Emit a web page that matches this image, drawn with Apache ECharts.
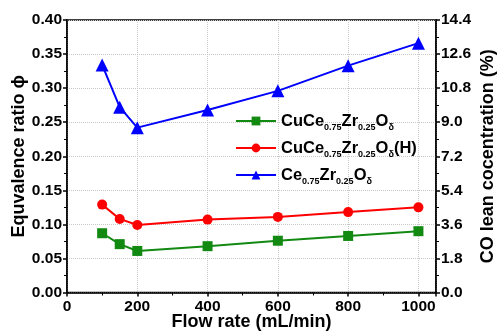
<!DOCTYPE html>
<html><head><meta charset="utf-8">
<script src="https://cdn.jsdelivr.net/npm/echarts@6/dist/echarts.min.js"></script>
<style>html,body{margin:0;padding:0;background:#fff}#c{width:500px;height:334px}</style>
</head><body><div id="c"></div>
<script>
var flowRates = [100, 150, 200, 400, 600, 800, 1000];
var cuCeZr = [0.087, 0.071, 0.061, 0.068, 0.076, 0.083, 0.090];
var cuCeZrH = [0.129, 0.108, 0.099, 0.107, 0.111, 0.118, 0.125];
var ceZr = [0.334, 0.272, 0.242, 0.268, 0.296, 0.333, 0.366];
var seriesNames = ['CuCe0.75Zr0.25Oδ', 'CuCe0.75Zr0.25Oδ(H)', 'Ce0.75Zr0.25Oδ'];
var legendRich = {
  '0': '{a|CuCe}{s|0.75}{a|Zr}{s|0.25}{a|O}{s|δ}',
  '1': '{a|CuCe}{s|0.75}{a|Zr}{s|0.25}{a|O}{s|δ}{a|(H)}',
  '2': '{a|Ce}{s|0.75}{a|Zr}{s|0.25}{a|O}{s|δ}'
};
function pairs(vals){ return flowRates.map(function(x,i){return [x, vals[i]];}); }
var F = 'Liberation Sans, Arial, sans-serif';
var chart = echarts.init(document.getElementById('c'), null, {renderer:'canvas'});
var axisLbl = {color:'#000', fontFamily:F, fontWeight:'bold', fontSize:15.5};
var nameStyle = {color:'#000', fontFamily:F, fontWeight:'bold', fontSize:18};
var colors = ['#128a12', '#ff0000', '#0000ff'];
var symbols = ['rect', 'circle', 'triangle'];
var sizes = [10, 10, 13];
var data = [cuCeZr, cuCeZrH, ceZr];
chart.setOption({
  animation:false,
  grid:{left:67, right:64, top:20, bottom:41.5, show:true, borderColor:'#000', borderWidth:1.5,
        containLabel:false, outerBoundsMode:'none'},
  legend:{
    orient:'vertical', left:230, top:105, itemWidth:40, itemHeight:11, itemGap:5,
    data:seriesNames,
    formatter:function(n){ return legendRich[String(seriesNames.indexOf(n))]; },
    textStyle:{
      rich:{
        a:{fontFamily:F, fontWeight:'bold', fontSize:16.5, color:'#000', lineHeight:21},
        s:{fontFamily:F, fontWeight:'bold', fontSize:9, color:'#000', padding:[13,0,0,0], lineHeight:21}
      }
    }
  },
  xAxis:{
    type:'value', min:0, max:1050, interval:200,
    name:'Flow rate (mL/min)', nameLocation:'middle', nameGap:20.5, nameMoveOverlap:false, nameTextStyle:nameStyle,
    axisLine:{lineStyle:{color:'#000', width:1.5}},
    axisTick:{length:4, lineStyle:{color:'#000', width:1.5}},
    minorTick:{show:true, splitNumber:2, length:3, lineStyle:{color:'#000'}},
    axisLabel:Object.assign({margin:6, showMaxLabel:false, formatter:function(v){return String(v);}}, axisLbl),
    splitLine:{show:true, lineStyle:{color:'#c8c8c8', type:'dotted', width:1}}
  },
  yAxis:[{
    type:'value', min:0, max:0.4, interval:0.05,
    name:'Equvalence ratio ϕ', nameLocation:'middle', nameGap:38.5, nameMoveOverlap:false, nameTextStyle:nameStyle,
    axisLine:{show:true, lineStyle:{color:'#000', width:1.5}},
    axisTick:{show:true, length:4, lineStyle:{color:'#000', width:1.5}},
    minorTick:{show:true, splitNumber:2, length:3, lineStyle:{color:'#000'}},
    axisLabel:Object.assign({margin:5, formatter:function(v){return v.toFixed(2);}}, axisLbl),
    splitLine:{show:true, lineStyle:{color:'#c8c8c8', type:'dotted', width:1}}
  },{
    type:'value', min:0, max:14.4, interval:1.8, position:'right',
    name:'CO lean cocentration (%)', nameLocation:'middle', nameGap:43, nameRotate:90, nameMoveOverlap:false, nameTextStyle:nameStyle,
    axisLine:{show:true, lineStyle:{color:'#000', width:1.5}},
    axisTick:{show:true, length:4, lineStyle:{color:'#000', width:1.5}},
    minorTick:{show:true, splitNumber:2, length:3, lineStyle:{color:'#000'}},
    axisLabel:Object.assign({margin:5, formatter:function(v){return v.toFixed(1);}}, axisLbl),
    splitLine:{show:false}
  }],
  series:[0,1,2].map(function(i){
    return {
      name:seriesNames[i], type:'line', yAxisIndex:0, data:pairs(data[i]),
      symbol:symbols[i], symbolSize:sizes[i], showAllSymbol:true,
      lineStyle:{color:colors[i], width:2}, itemStyle:{color:colors[i]}
    };
  })
});
</script></body></html>
